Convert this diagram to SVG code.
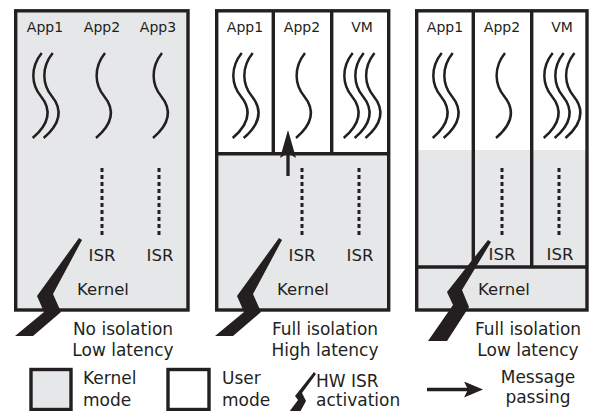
<svg xmlns="http://www.w3.org/2000/svg" width="589" height="411" viewBox="0 0 589 411">
<style>
text{font-family:"DejaVu Sans","Liberation Sans",sans-serif;fill:#231f20}
.app{font-size:14px;text-anchor:middle}
.lbl{font-size:16.5px;text-anchor:middle}
.cap{font-size:17px;text-anchor:middle}
.leg{font-size:17px}
.frame{fill:none;stroke:#231f20;stroke-width:3.4}
.gray{fill:#e6e7e8}
.white{fill:#ffffff}
.div{stroke:#231f20;stroke-width:3.4;fill:none}
.thread{fill:none;stroke:#231f20;stroke-width:2.5}
.dots{stroke:#231f20;stroke-width:3;stroke-dasharray:4 3;fill:none}
.bolt{fill:#231f20}
.conn{stroke:#231f20;stroke-width:3.3;fill:none}
</style>
<defs>
<path id="th" d="M0,0 C-12,15 -10,32 -1,43 S11,68 -9,85"/>
<marker id="ahLong" markerUnits="userSpaceOnUse" markerWidth="28" markerHeight="16" viewBox="0 0 28 16" refX="20" refY="8" orient="auto">
<path d="M0,0 L28,8 L0,16 L5,8 z" fill="#231f20"/>
</marker>
<marker id="ah" markerUnits="userSpaceOnUse" markerWidth="19" markerHeight="16" viewBox="0 0 19 16" refX="12" refY="8" orient="auto">
<path d="M0,0 L19,8 L0,16 L4,8 z" fill="#231f20"/>
</marker>
</defs>

<g id="panel-no-isolation">
<rect class="gray" x="15.7" y="10.8" width="172.3" height="299.2"/>
<rect class="frame" x="15.7" y="10.8" width="172.3" height="299.2"/>
<text class="app" x="45" y="32">App1</text>
<text class="app" x="102" y="32">App2</text>
<text class="app" x="158" y="32">App3</text>
<use href="#th" class="thread" x="41.7" y="53"/>
<use href="#th" class="thread" x="52.7" y="53"/>
<use href="#th" class="thread" x="105" y="53"/>
<use href="#th" class="thread" x="162" y="53"/>
<line class="dots" x1="102" y1="168" x2="102" y2="238"/>
<line class="dots" x1="159" y1="168" x2="159" y2="238"/>
<text class="lbl" x="102" y="261">ISR</text>
<text class="lbl" x="160" y="261">ISR</text>
<text class="lbl" x="103" y="295">Kernel</text>
<text class="cap" x="123" y="335">No isolation</text>
<text class="cap" x="123" y="356">Low latency</text>
</g>

<g id="panel-full-high">
<rect class="gray" x="216.7" y="10.8" width="172" height="299.2"/>
<rect class="white" x="216.7" y="10.8" width="172" height="143"/>
<rect class="frame" x="216.7" y="10.8" width="172" height="299.2"/>
<line class="div" x1="216.7" y1="153.8" x2="388.7" y2="153.8"/>
<line class="div" x1="273.3" y1="10.8" x2="273.3" y2="153.8"/>
<line class="div" x1="331.7" y1="10.8" x2="331.7" y2="153.8"/>
<text class="app" x="245" y="32">App1</text>
<text class="app" x="302" y="32">App2</text>
<text class="app" x="362" y="32">VM</text>
<use href="#th" class="thread" x="241.7" y="53"/>
<use href="#th" class="thread" x="252.7" y="53"/>
<use href="#th" class="thread" x="305" y="53"/>
<use href="#th" class="thread" x="352.7" y="53"/>
<use href="#th" class="thread" x="363.7" y="53"/>
<use href="#th" class="thread" x="374.5" y="53"/>
<line class="dots" x1="302" y1="168" x2="302" y2="238"/>
<line class="dots" x1="359" y1="168" x2="359" y2="238"/>
<text class="lbl" x="302" y="261">ISR</text>
<text class="lbl" x="360" y="261">ISR</text>
<text class="lbl" x="303" y="295">Kernel</text>
<text class="cap" x="325" y="335">Full isolation</text>
<text class="cap" x="325" y="356">High latency</text>
</g>

<g id="panel-full-low">
<rect class="gray" x="416.7" y="10.8" width="170.3" height="299.2"/>
<rect class="white" x="416.7" y="10.8" width="170.3" height="139.2"/>
<rect class="frame" x="416.7" y="10.8" width="170.3" height="299.2"/>
<line class="div" x1="416.7" y1="267" x2="587" y2="267"/>
<line class="div" x1="473.3" y1="10.8" x2="473.3" y2="267"/>
<line class="div" x1="531.7" y1="10.8" x2="531.7" y2="267"/>
<text class="app" x="445" y="32">App1</text>
<text class="app" x="502" y="32">App2</text>
<text class="app" x="562" y="32">VM</text>
<use href="#th" class="thread" x="441.7" y="53"/>
<use href="#th" class="thread" x="452.7" y="53"/>
<use href="#th" class="thread" x="505" y="53"/>
<use href="#th" class="thread" x="552.7" y="53"/>
<use href="#th" class="thread" x="563.7" y="53"/>
<use href="#th" class="thread" x="574.5" y="53"/>
<line class="dots" x1="502" y1="168" x2="502" y2="238"/>
<line class="dots" x1="559" y1="168" x2="559" y2="238"/>
<text class="lbl" x="502" y="260">ISR</text>
<text class="lbl" x="560" y="260">ISR</text>
<text class="lbl" x="504" y="295">Kernel</text>
<text class="cap" x="528" y="335">Full isolation</text>
<text class="cap" x="528" y="356">Low latency</text>
</g>

<g id="connectors">
<polygon class="bolt" points="79,238 82,240 53,294 61,312 33,336 15,336 44,312 37,296"/>
<polygon class="bolt" points="279,238 282,240 253,294 261,312 233,336 215,336 244,312 237,296"/>
<polygon class="bolt" points="488,240 491,242 462,290 469,307 447,341 428,341 453,305 447,292"/>
<line class="conn" x1="288" y1="176" x2="288" y2="138" marker-end="url(#ahLong)"/>
</g>

<g id="legend">
<rect class="gray" x="31" y="369.5" width="40" height="40"/>
<rect class="frame" x="31" y="369.5" width="40" height="40"/>
<text class="leg" x="83" y="384">Kernel</text>
<text class="leg" x="83" y="406">mode</text>
<rect class="white" x="168" y="369.5" width="41" height="40"/>
<rect class="frame" x="168" y="369.5" width="41" height="40"/>
<text class="leg" x="222" y="384">User</text>
<text class="leg" x="222" y="406">mode</text>
<polygon class="bolt" points="314,372 316,374 302,393 306,401 300,412 289,412 298,400 295,396"/>
<text class="leg" x="316" y="387">HW ISR</text>
<text class="leg" x="316" y="406">activation</text>
<line class="conn" x1="427" y1="389.5" x2="476" y2="389.5" marker-end="url(#ah)"/>
<text class="cap" x="538" y="383">Message</text>
<text class="cap" x="538" y="403">passing</text>
</g>
</svg>
